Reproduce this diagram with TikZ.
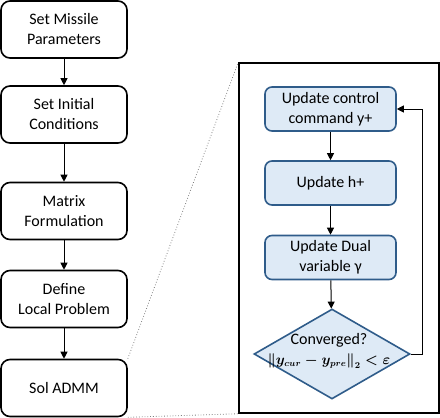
\documentclass[tikz,border=0pt]{standalone}
\usepackage{fontspec}
\usepackage{amsmath}
\setmainfont{Carlito}
\usetikzlibrary{shapes.geometric,arrows.meta}
\definecolor{bfill}{HTML}{DEEAF6}
\definecolor{bdraw}{HTML}{2F5C8A}
\begin{document}
\begin{tikzpicture}[x=1pt,y=-1pt,
  lbox/.style={draw=black,line width=1.6pt,rounded corners=9pt,minimum width=126pt,minimum height=57pt,align=center,inner sep=0pt,font=\fontsize{16}{20}\selectfont},
  ibox/.style={draw=bdraw,fill=bfill,line width=1.6pt,rounded corners=7pt,minimum width=131pt,minimum height=44pt,align=center,inner sep=0pt,font=\fontsize{16}{20}\selectfont},
  dia/.style={draw=bdraw,fill=bfill,line width=1.6pt,diamond,minimum width=156pt,minimum height=90pt,inner sep=0pt},
  arr/.style={-{Triangle[length=7pt,width=7pt]},line width=1pt},
  dots/.style={gray,dotted,line width=0.8pt}]
\useasboundingbox (0,0) rectangle (440,418);
\node[lbox] (b1) at (64,29.5) {Set Missile\\Parameters};
\node[lbox] (b2) at (64,114.5) {Set Initial\\Conditions};
\node[lbox] (b3) at (64,211) {Matrix\\Formulation};
\node[lbox] (b4) at (64,299) {Define\\Local Problem};
\node[lbox] (b5) at (64,388) {Sol ADMM};
\draw[arr] (b1) -- (b2);
\draw[arr] (b2) -- (b3);
\draw[arr] (b3) -- (b4);
\draw[arr] (b4) -- (b5);
\node[draw=black,line width=1.5pt,minimum width=200pt,minimum height=350pt,inner sep=0pt] (frame) at (339,238) {};
\draw[dots] (b5.north east) -- (frame.north west);
\draw[dots] (b5.south east) -- (frame.south west);
\node[ibox] (u1) at (330.5,109) {Update control\\command y+};
\node[ibox] (u2) at (330.5,183) {Update h+};
\node[ibox] (u3) at (330.5,257.5) {Update Dual\\variable γ};
\node[dia] (d) at (332,354) {};
\node[font=\fontsize{16}{19}\selectfont,align=center,inner sep=0pt] (dt) at (329,351) {Converged?\\[1pt]{\fontsize{13.5}{16}\selectfont\mathversion{bold}$\left\| y_{cur}-y_{pre}\right\|_2<\varepsilon$}};
\coordinate (c1) at (422,354);
\coordinate (c2) at (422,109);
\draw[arr] (u1) -- (u2);
\draw[arr] (u2) -- (u3);
\draw[arr] (u3) -- (d);
\draw[arr] (d.east) -- (c1) -- (c2) -- (u1.east);
\end{tikzpicture}
\end{document}
